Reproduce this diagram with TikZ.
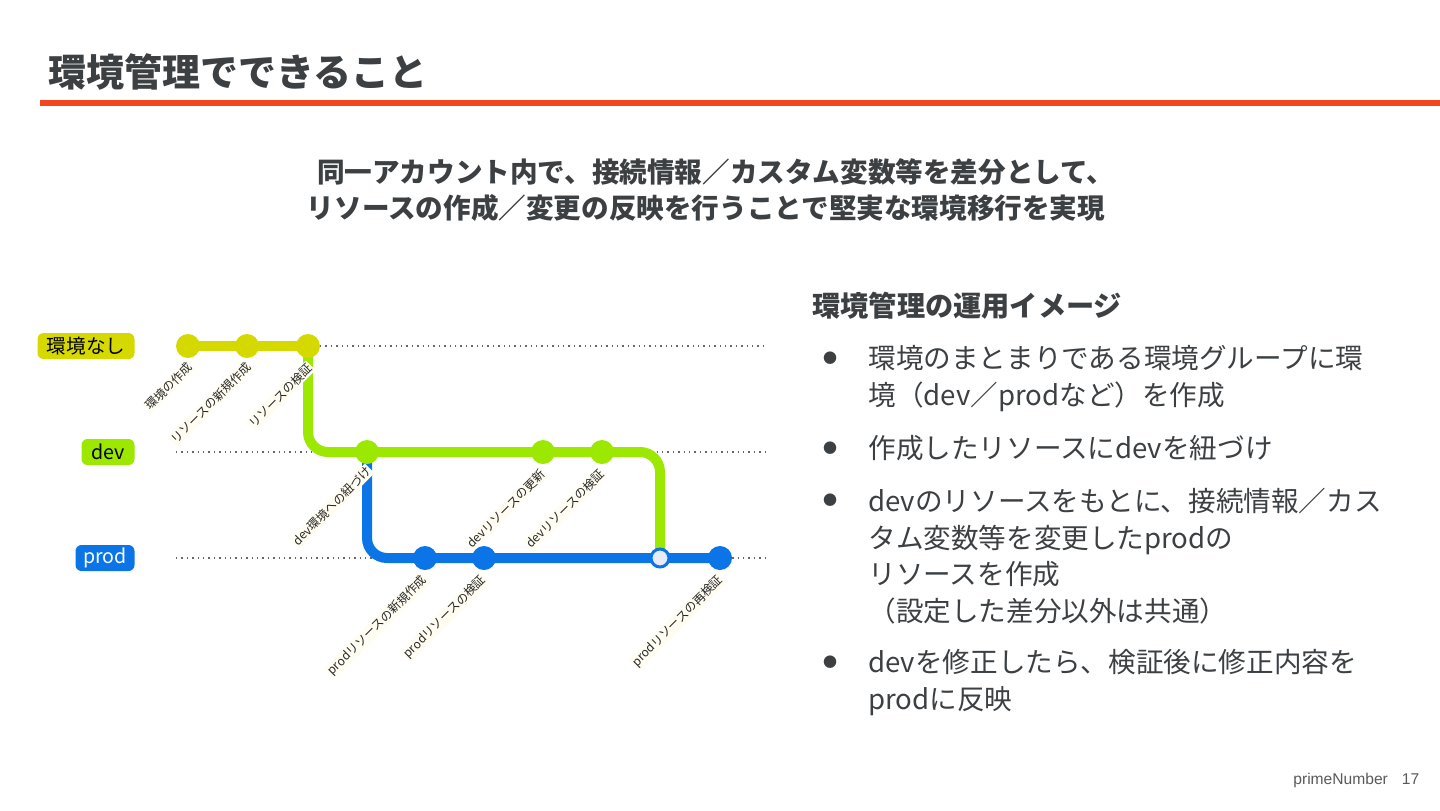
\documentclass[tikz,border=0pt]{standalone}
\usepackage{fontspec}
\setmainfont{Noto Sans CJK JP}
\newfontfamily\footfont{Liberation Sans}
\usetikzlibrary{
    positioning,
    backgrounds
}
\definecolor{inkgray}{HTML}{3C4043}
\definecolor{rulered}{HTML}{F4461E}
\definecolor{noenv}{HTML}{D6D900}
\definecolor{devgreen}{HTML}{9CE800}
\definecolor{prodblue}{HTML}{0B74E6}
\definecolor{opendot}{HTML}{E8EAF6}
\definecolor{labelbg}{HTML}{FFFDF2}
\tikzset{
    envtag/.style={rounded corners=3pt, inner sep=0pt, minimum height=13pt,
        font=\fontsize{9.8}{9.8}\selectfont},
    lane/.style={black!60, dotted, line width=0.7pt},
    track/.style={line width=5pt, rounded corners=10pt},
    station/.style={circle, inner sep=0pt, minimum size=12pt},
    opendot/.style={circle, inner sep=0pt, minimum size=9pt, fill=opendot,
        draw=prodblue, line width=1.5pt},
    steplabel/.style={rotate=45, anchor=east, fill=labelbg, inner sep=0.6pt,
        font=\fontsize{6}{6}\selectfont, text=black!85},
    bulletmark/.style={text=inkgray, inner sep=0pt, font=\fontsize{7}{7}\selectfont},
    bullettext/.style={anchor=north west, inner sep=0pt, align=left, text=inkgray,
        font=\fontsize{13.8}{18.3}\selectfont}
}

\begin{document}
\begin{tikzpicture}[x=0.5pt, y=-0.5pt]
    \useasboundingbox (0,0) rectangle (1440,810);
    % heading
    \node[anchor=west, inner sep=0pt, text=inkgray, font=\bfseries\fontsize{19}{19}\selectfont]
        (title) at (48,72) {環境管理でできること};
    \fill[rulered] (40,100) rectangle (1440,106);
    \node[align=center, inner sep=0pt, text=inkgray, font=\bfseries\fontsize{13.8}{18}\selectfont]
        (lead) at (706,190) {\hspace*{0.7em}同一アカウント内で、接続情報／カスタム変数等を差分として、\\%
        リソースの作成／変更の反映を行うことで堅実な環境移行を実現};

    % environment tags
    \node[envtag, fill=noenv, minimum width=48.5pt] (tagnone) at (86,346) {環境なし};
    \node[envtag, fill=devgreen, minimum width=26.5pt] (tagdev) at (108,452) {dev};
    \node[envtag, fill=prodblue, text=white, minimum width=29.5pt] (tagprod) at (105,558) {prod};

    % stations
    \node[station, fill=noenv] (u1) at (188,346) {};
    \node[station, fill=noenv] (u2) at (247,346) {};
    \node[station, fill=noenv] (u3) at (308,346) {};
    \node[station, fill=devgreen] (d1) at (367,452) {};
    \node[station, fill=devgreen] (d2) at (543,452) {};
    \node[station, fill=devgreen] (d3) at (602,452) {};
    \node[station, fill=prodblue] (p1) at (425,558) {};
    \node[station, fill=prodblue] (p2) at (484,558) {};
    \node[opendot] (pm) at (660,558) {};
    \node[station, fill=prodblue] (p3) at (720,558) {};

    \coordinate (nonestart) at (320,346);
    \coordinate (noneend) at (765,346);
    \coordinate (devstart) at (176,452);
    \coordinate (devend) at (765,452);
    \coordinate (prodstart) at (176,558);
    \coordinate (prodend) at (765,558);

    \begin{scope}[on background layer]
        \draw[lane] (nonestart) -- (noneend);
        \draw[lane] (devstart) -- (devend);
        \draw[lane] (prodstart) -- (prodend);
        \draw[track, prodblue] (d1.center) |- (p1.center) -- (p3.center);
        \draw[track, devgreen] (u3.center) |- (d1.center) -- (d3.center) -| (pm.center);
        \draw[track, noenv] (u1.center) -- (u3.center);
    \end{scope}

    % step labels
    \node[steplabel] (lu1) at ([shift={(3,18)}]u1.center) {環境の作成};
    \node[steplabel] (lu2) at ([shift={(3,18)}]u2.center) {リソースの新規作成};
    \node[steplabel] (lu3) at ([shift={(3,19)}]u3.center) {リソースの検証};
    \node[steplabel] (ld1) at ([shift={(3,16)}]d1.center) {dev環境への紐づけ};
    \node[steplabel] (ld2) at ([shift={(1,19)}]d2.center) {devリソースの更新};
    \node[steplabel] (ld3) at ([shift={(1,19)}]d3.center) {devリソースの検証};
    \node[steplabel] (lp1) at ([shift={(1,19)}]p1.center) {prodリソースの新規作成};
    \node[steplabel] (lp2) at ([shift={(1,19)}]p2.center) {prodリソースの検証};
    \node[steplabel] (lp3) at ([shift={(2,19)}]p3.center) {prodリソースの再検証};

    % explanation
    \node[anchor=west, inner sep=0pt, text=inkgray, font=\bfseries\fontsize{14.1}{14.1}\selectfont]
        (usage) at (812,306) {環境管理の運用イメージ};
    \node[bulletmark] (m1) at (830,358) {●};
    \node[bulletmark] (m2) at (830,448) {●};
    \node[bulletmark] (m3) at (830,500) {●};
    \node[bulletmark] (m4) at (830,662) {●};
    \node[bullettext] (b1) at (868,345) {環境のまとまりである環境グループに環\\境（dev／prodなど）を作成};
    \node[bullettext] (b2) at (868,435) {作成したリソースにdevを紐づけ};
    \node[bullettext] (b3) at (868,488) {devのリソースをもとに、接続情報／カス\\タム変数等を変更したprodの\\リソースを作成\\（設定した差分以外は共通）};
    \node[bullettext] (b4) at (868,649) {devを修正したら、検証後に修正内容を\\prodに反映};

    \node[anchor=west, inner sep=0pt, text=black!65, font=\footfont\fontsize{7.8}{7.8}\selectfont]
        (footer) at (1293,780) {primeNumber\hspace{7pt}17};
\end{tikzpicture}
\end{document}
